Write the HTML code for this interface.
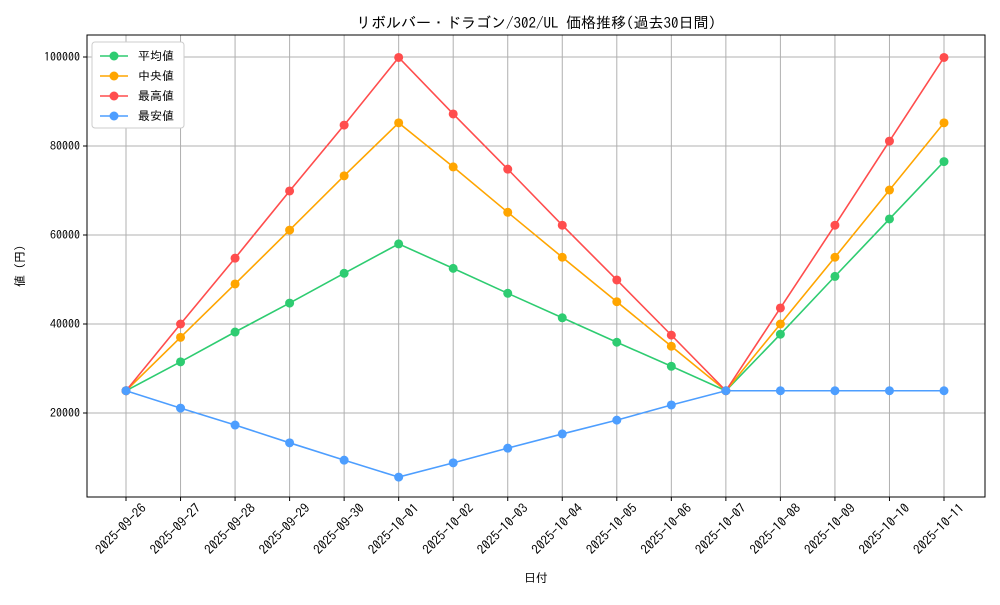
<!DOCTYPE html>
<html><head><meta charset="utf-8"><style>
body{margin:0;background:#fff;}
svg text{font-family:"IPAGothic","Liberation Mono","Noto Sans CJK JP",monospace;fill:#000;}
</style></head><body>
<svg id="chart" width="1000" height="600"></svg>
<script>
const dates=["2025-09-26","2025-09-27","2025-09-28","2025-09-29","2025-09-30","2025-10-01","2025-10-02","2025-10-03","2025-10-04","2025-10-05","2025-10-06","2025-10-07","2025-10-08","2025-10-09","2025-10-10","2025-10-11"];
const meanVals=[25000,31500,38200,44700,51400,58000,52500,46900,41400,35900,30500,25000,37700,50700,63600,76500];
const medianVals=[25000,37000,49000,61100,73300,85200,75300,65100,55000,45000,35000,25000,40000,55000,70100,85200];
const maxVals=[25000,40000,54800,69900,84700,99900,87200,74800,62200,49900,37500,25000,43600,62200,81100,99900];
const minVals=[25000,21100,17300,13300,9400,5600,8800,12100,15300,18400,21800,25000,25000,25000,25000,25000];
const yTicks=[20000,40000,60000,80000,100000];
const seriesNames=["平均値","中央値","最高値","最安値"];
const seriesColors=["#2ecc71","#ffa500","#ff4d4d","#4d9eff"];
const NS="http://www.w3.org/2000/svg";
const svg=document.getElementById('chart');
const L=87,R=985,T=35,B=497;
const xs=i=>126+i*(944-126)/(dates.length-1);
const ys=v=>413-(v-20000)*89/20000;
function mk(t,a,p){const e=document.createElementNS(NS,t);for(const k in a)e.setAttribute(k,a[k]);(p||svg).appendChild(e);return e;}
const ttl=mk('text',{x:(L+R)/2,y:28,'text-anchor':'middle','font-size':15});ttl.textContent='リボルバー・ドラゴン/302/UL 価格推移(過去30日間)';


dates.forEach((d,i)=>{const x=xs(i);
const g=mk('line',{x1:x,x2:x,y1:T,y2:B,stroke:'#b0b0b0','stroke-width':1});


mk('line',{x1:x,x2:x,y1:B,y2:B+4,stroke:'#000'});
const t=mk('text',{x:0,y:0,'font-size':13,'text-anchor':'end',transform:`translate(${x+21},${B+12}) rotate(-45)`});t.textContent=d;

});
yTicks.forEach(v=>{const y=ys(v);
const g=mk('line',{x1:L,x2:R,y1:y,y2:y,stroke:'#b0b0b0','stroke-width':1});


mk('line',{x1:L-4,x2:L,y1:y,y2:y,stroke:'#000'});
const t=mk('text',{x:L-7,y:y+4,'font-size':12,'text-anchor':'end'});t.textContent=v;

});
const fr=mk('rect',{x:L,y:T,width:R-L,height:B-T,fill:'none',stroke:'#000'});


const xl=mk('text',{x:(L+R)/2,y:582,'font-size':12,'text-anchor':'middle'});xl.textContent='日付';


const yl=mk('text',{x:0,y:0,'font-size':12,'text-anchor':'middle',transform:`translate(24,${(T+B)/2}) rotate(-90)`});yl.textContent='値 (円)';


const all=[meanVals,medianVals,maxVals,minVals];
all.forEach((vals,s)=>{
const pl=mk('polyline',{points:vals.map((v,i)=>xs(i)+','+ys(v)).join(' '),fill:'none',stroke:seriesColors[s],'stroke-width':1.6});


vals.forEach((v,i)=>{const c=mk('circle',{cx:xs(i),cy:ys(v),r:4.5,fill:seriesColors[s]});

});});
const lg=mk('g',{});


mk('rect',{x:92,y:42,width:92,height:86,fill:'#fff',stroke:'#ccc',rx:3},lg);
seriesNames.forEach((n,s)=>{const y=56+s*20;
const e=mk('g',{},lg);


mk('line',{x1:100,x2:128,y1:y,y2:y,stroke:seriesColors[s],'stroke-width':1.6},e);
mk('circle',{cx:114,cy:y,r:4.5,fill:seriesColors[s]},e);
const t=mk('text',{x:138,y:y+4,'font-size':12},e);t.textContent=n;});
</script>
</body></html>
